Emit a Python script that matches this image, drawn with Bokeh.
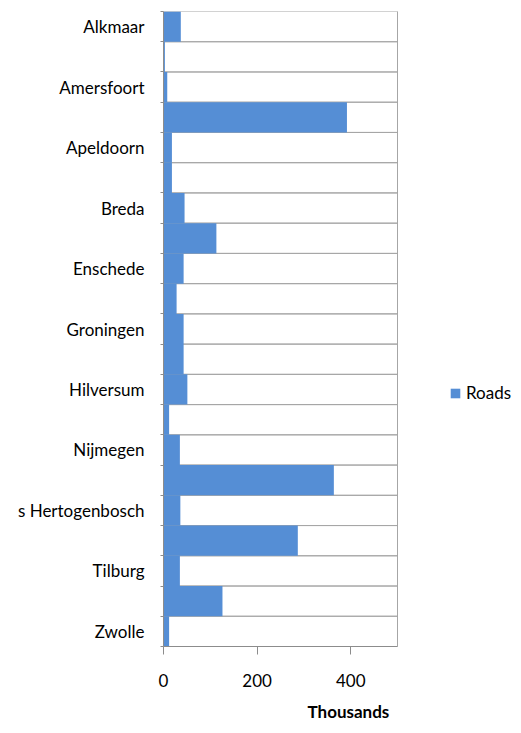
from bokeh.plotting import figure
from bokeh.models import Range1d, FixedTicker, Legend, LegendItem, Title
from bokeh.embed import file_html
from bokeh.resources import INLINE

cities = ["Alkmaar", "Almere", "Amersfoort", "Amsterdam", "Apeldoorn", "Arnhem",
          "Breda", "Eindhoven", "Enschede", "Gouda", "Groningen", "Haarlem",
          "Hilversum", "Leiden", "Nijmegen", "Rotterdam", "s Hertogenbosch",
          "s Gravenhage", "Tilburg", "Utrecht", "Zwolle"]
roads = [37, 3, 8, 392, 18, 18, 45, 113, 43, 28, 43, 43, 51, 12, 35, 364, 36, 287, 35, 126, 12]
shown_labels = ["Alkmaar", "Amersfoort", "Apeldoorn", "Breda", "Enschede", "Groningen",
                "Hilversum", "Nijmegen", "s Hertogenbosch", "Tilburg", "Zwolle"]
x_ticks = [0, 200, 400]
x_max = 500

n = len(cities)
ypos = list(range(n))  # 0 = top (Alkmaar)

FONT = "Lato"
FS = "17px"
BLUE = "#558ED5"
AXIS = "#8C8C8C"
GRID = "#A6A6A6"

W, H = 513, 731
LEFT, TOP, BOTTOM = 163, 11, 84
PLOT_W = 234  # pixel width of the value area (0..x_max)
frame_w = W - LEFT
p = figure(width=W, height=H, output_backend="svg", toolbar_location=None,
           x_range=Range1d(0, x_max * frame_w / PLOT_W), y_range=Range1d(n - 0.5, -0.5),
           min_border_left=LEFT, min_border_right=0, min_border_top=TOP, min_border_bottom=BOTTOM)

# category cells (grid lines + right/top border of the plot area)
p.hbar(y=ypos, height=1.0, left=0, right=x_max, fill_color=None, line_color=GRID, line_width=1)
r = p.hbar(y=ypos, height=1.0, left=0, right=roads, fill_color=BLUE, line_color=None)

# axes
p.xaxis.ticker = FixedTicker(ticks=x_ticks)
p.xaxis.bounds = (0, x_max)
p.xaxis.axis_line_color = AXIS
p.xaxis.major_tick_line_color = AXIS
p.xaxis.major_tick_out = 8
p.xaxis.major_tick_in = 0
p.xaxis.minor_tick_line_color = None
p.xaxis.major_label_text_font = FONT
p.xaxis.major_label_text_font_size = FS
p.xaxis.major_label_text_color = "#000000"
p.xaxis.major_label_standoff = 19

label_idx = [cities.index(c) for c in shown_labels]
p.yaxis.ticker = FixedTicker(ticks=label_idx, minor_ticks=[i - 0.5 for i in range(n + 1)])
p.yaxis.major_label_overrides = {i: cities[i] for i in label_idx}
p.yaxis.axis_line_color = AXIS
p.yaxis.major_tick_line_color = None
p.yaxis.minor_tick_line_color = AXIS
p.yaxis.minor_tick_out = 3
p.yaxis.minor_tick_in = 0
p.yaxis.major_label_text_font = FONT
p.yaxis.major_label_text_font_size = FS
p.yaxis.major_label_text_color = "#000000"
p.yaxis.major_label_standoff = 13

p.ygrid.grid_line_color = None
p.xgrid.ticker = FixedTicker(ticks=[x_max])
p.xgrid.grid_line_color = AXIS
p.xgrid.grid_line_width = 1

p.outline_line_color = None
p.background_fill_color = None

p.add_layout(Title(text="Thousands", align="left", offset=144, standoff=19,
                   text_font=FONT, text_font_size=FS, text_font_style="bold",
                   text_color="#000000"), "below")

legend = Legend(items=[LegendItem(label="Roads", renderers=[r])],
                location=(286, 243), orientation="vertical",
                glyph_width=12, glyph_height=12, label_standoff=5, padding=0, margin=0,
                border_line_color=None, background_fill_alpha=0,
                label_text_font=FONT, label_text_font_size=FS, label_text_color="#000000")
p.add_layout(legend)

open("out.html", "w").write(file_html(p, INLINE))
